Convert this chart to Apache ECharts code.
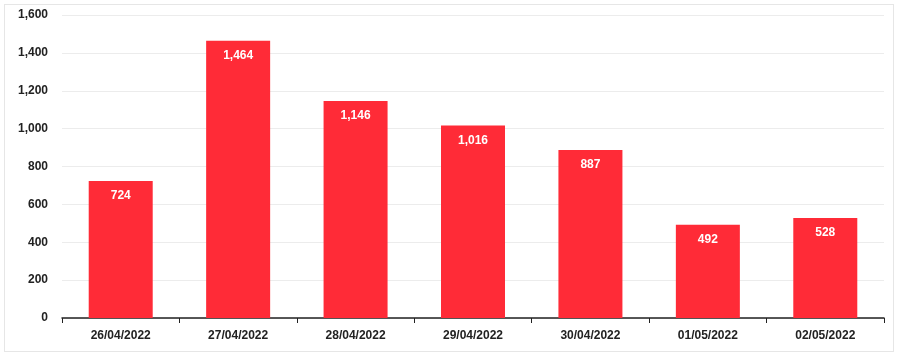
<!DOCTYPE html>
<html><head><meta charset="utf-8">
<script src="https://cdn.jsdelivr.net/npm/echarts@6/dist/echarts.min.js"></script>
<style>html,body{margin:0;padding:0;background:#fff}#frame{position:absolute;left:4px;top:4px;width:890px;height:348px;border:1px solid #e6e6e6;box-sizing:border-box}#c{width:900px;height:360px}</style>
</head><body><div id="frame"></div><div id="c"></div>
<script>
const categories = ['26/04/2022','27/04/2022','28/04/2022','29/04/2022','30/04/2022','01/05/2022','02/05/2022'];
const values = [724, 1464, 1146, 1016, 887, 492, 528];
const chart = echarts.init(document.getElementById('c'), null, {renderer:'canvas'});
const fmt = v => v.toLocaleString('en-US');
chart.setOption({
  animation:false,
  grid:{left:62,right:16,top:15,bottom:42},
  xAxis:{type:'category',data:categories,
    axisLine:{lineStyle:{color:'#222',width:1.5}},
    axisTick:{show:true,alignWithLabel:false,length:5,lineStyle:{color:'#222'}},
    axisLabel:{color:'#222',fontFamily:'Liberation Sans',fontWeight:'bold',fontSize:12,margin:12}},
  yAxis:{type:'value',min:0,max:1600,interval:200,
    axisLine:{show:false},axisTick:{show:false},
    splitLine:{lineStyle:{color:'#ececec'}},
    axisLabel:{color:'#222',fontFamily:'Liberation Sans',fontWeight:'bold',fontSize:12,margin:14,formatter:fmt}},
  series:[{type:'bar',data:values,barWidth:64,itemStyle:{color:'#ff2b37'},
    label:{show:true,position:'insideTop',distance:9,color:'#fff',fontFamily:'Liberation Sans',fontWeight:'bold',fontSize:12,formatter:p=>fmt(p.value)}}]
});
</script></body></html>
